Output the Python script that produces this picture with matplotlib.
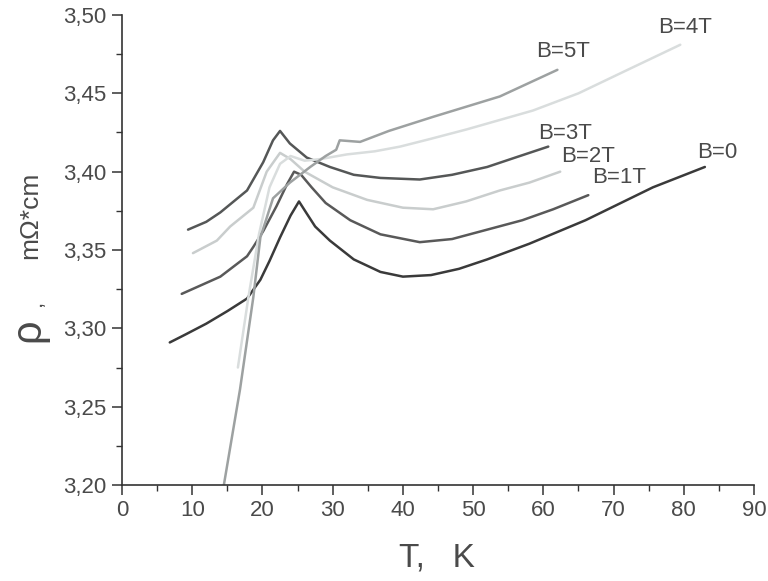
import matplotlib
matplotlib.use("Agg")
import matplotlib.pyplot as plt
from matplotlib.ticker import MultipleLocator, FixedLocator

plt.rcParams['font.family'] = ['Liberation Sans', 'DejaVu Sans']

# resistivity curves (T in K, rho in mOhm*cm)
t_b0 = [6.8, 9, 12, 15, 17.8, 19.7, 21, 22.5, 24, 25.2, 26.2, 27.5, 29.6, 33, 36.8, 40, 44, 48, 52, 58, 66,
        75.6, 83]
r_b0 = [3.291, 3.296, 3.303, 3.311, 3.319, 3.331, 3.343, 3.358, 3.372, 3.381, 3.374, 3.365, 3.356, 3.344,
        3.336, 3.333, 3.334, 3.338, 3.344, 3.354, 3.369, 3.390, 3.403]

t_b1 = [8.5, 11, 14, 17.8, 18.7, 20.1, 22, 23.5, 24.5, 25.5, 27, 29, 32.5, 36.8, 42.4, 47, 52, 57, 61.4,
        66.4]
r_b1 = [3.322, 3.327, 3.333, 3.346, 3.352, 3.362, 3.378, 3.392, 3.400, 3.398, 3.390, 3.380, 3.369, 3.360,
        3.355, 3.357, 3.363, 3.369, 3.376, 3.385]

t_b2 = [10.1, 13.5, 15.4, 18.7, 20.6, 22.5, 24, 26, 30, 34.9, 40, 44.3, 49, 53.8, 58, 62.4]
r_b2 = [3.348, 3.356, 3.365, 3.377, 3.400, 3.412, 3.408, 3.400, 3.390, 3.382, 3.377, 3.376, 3.381,
        3.388, 3.393, 3.400]

t_b3 = [9.4, 12, 14, 17.8, 20.1, 21.5, 22.5, 23.9, 26.3, 29.6, 33, 36.8, 42.4, 47, 52, 56, 60.7]
r_b3 = [3.363, 3.368, 3.374, 3.388, 3.406, 3.420, 3.426, 3.418, 3.409, 3.403, 3.398, 3.396, 3.395,
        3.398, 3.403, 3.409, 3.416]

t_b4 = [16.5, 18, 19.5, 21, 22.5, 24, 26, 28.2, 32, 36, 39.6, 44, 49.1, 53.8, 58.5, 65, 72, 79.5]
r_b4 = [3.275, 3.320, 3.360, 3.390, 3.405, 3.410, 3.407, 3.408, 3.411, 3.413, 3.416, 3.421, 3.427,
        3.433, 3.439, 3.450, 3.465, 3.481]

t_b5 = [14.5, 16.8, 18.7, 19.7, 21.5, 23.9, 26.8, 29, 30.5, 31, 33.9, 38, 44.3, 53.8, 62]
r_b5 = [3.200, 3.261, 3.320, 3.358, 3.383, 3.393, 3.403, 3.410, 3.414, 3.420, 3.419, 3.426, 3.435,
        3.448, 3.465]

labels = ['B=0', 'B=1T', 'B=2T', 'B=3T', 'B=4T', 'B=5T']
label_x = [81.9, 67.0, 62.6, 59.3, 76.4, 59.0]
label_y = [3.412, 3.3965, 3.4095, 3.4245, 3.492, 3.477]
colors = ['#3a3a3a', '#595959', '#c9cdcd', '#555757', '#d9dddd', '#9da1a1']

x_ticks = [0, 10, 20, 30, 40, 50, 60, 70, 80, 90]
y_ticks = [3.20, 3.25, 3.30, 3.35, 3.40, 3.45, 3.50]
y_tick_labels = ['3,20', '3,25', '3,30', '3,35', '3,40', '3,45', '3,50']

txt = '#4a4a4a'

fig = plt.figure(figsize=(7.68, 5.81), dpi=100)
ax = fig.add_axes([0.1589, 0.1652, 0.8229, 0.8090])

series = [(t_b0, r_b0), (t_b1, r_b1), (t_b2, r_b2), (t_b3, r_b3), (t_b4, r_b4), (t_b5, r_b5)]
for (t, r), c in zip(series, colors):
    ax.plot(t, r, color=c, lw=1.8, solid_capstyle='round', solid_joinstyle='round')

for s, x, y in zip(labels, label_x, label_y):
    ax.text(x, y, s, fontsize=16, color=txt, ha='left', va='center')

ax.set_xlim(0, 90)
ax.set_ylim(3.20, 3.50)
ax.xaxis.set_major_locator(FixedLocator(x_ticks))
ax.xaxis.set_minor_locator(MultipleLocator(5))
ax.yaxis.set_major_locator(FixedLocator(y_ticks))
ax.yaxis.set_minor_locator(MultipleLocator(0.025))
ax.set_yticklabels(y_tick_labels)

ax.spines['top'].set_visible(False)
ax.spines['right'].set_visible(False)
for sp in ['left', 'bottom']:
    ax.spines[sp].set_color('#333333')
    ax.spines[sp].set_linewidth(1.2)

ax.tick_params(which='major', direction='out', length=7, width=1.1, color='#333333',
               labelsize=16, labelcolor=txt, pad=4)
ax.tick_params(which='minor', direction='out', length=4, width=1.0, color='#333333')

# axis titles
fig.text(0.569, 0.040, 'T,   K', fontsize=24, color=txt, ha='center', va='center')
fig.text(0.037, 0.432, 'ρ', fontsize=30, color=txt, ha='center', va='center', rotation=90)
fig.text(0.046, 0.478, ',', fontsize=16, color=txt, ha='center', va='center', rotation=90)
fig.text(0.039, 0.630, 'mΩ*cm', fontsize=19, color=txt, ha='center', va='center', rotation=90)

fig.savefig('out.png', dpi=100, facecolor='white')
